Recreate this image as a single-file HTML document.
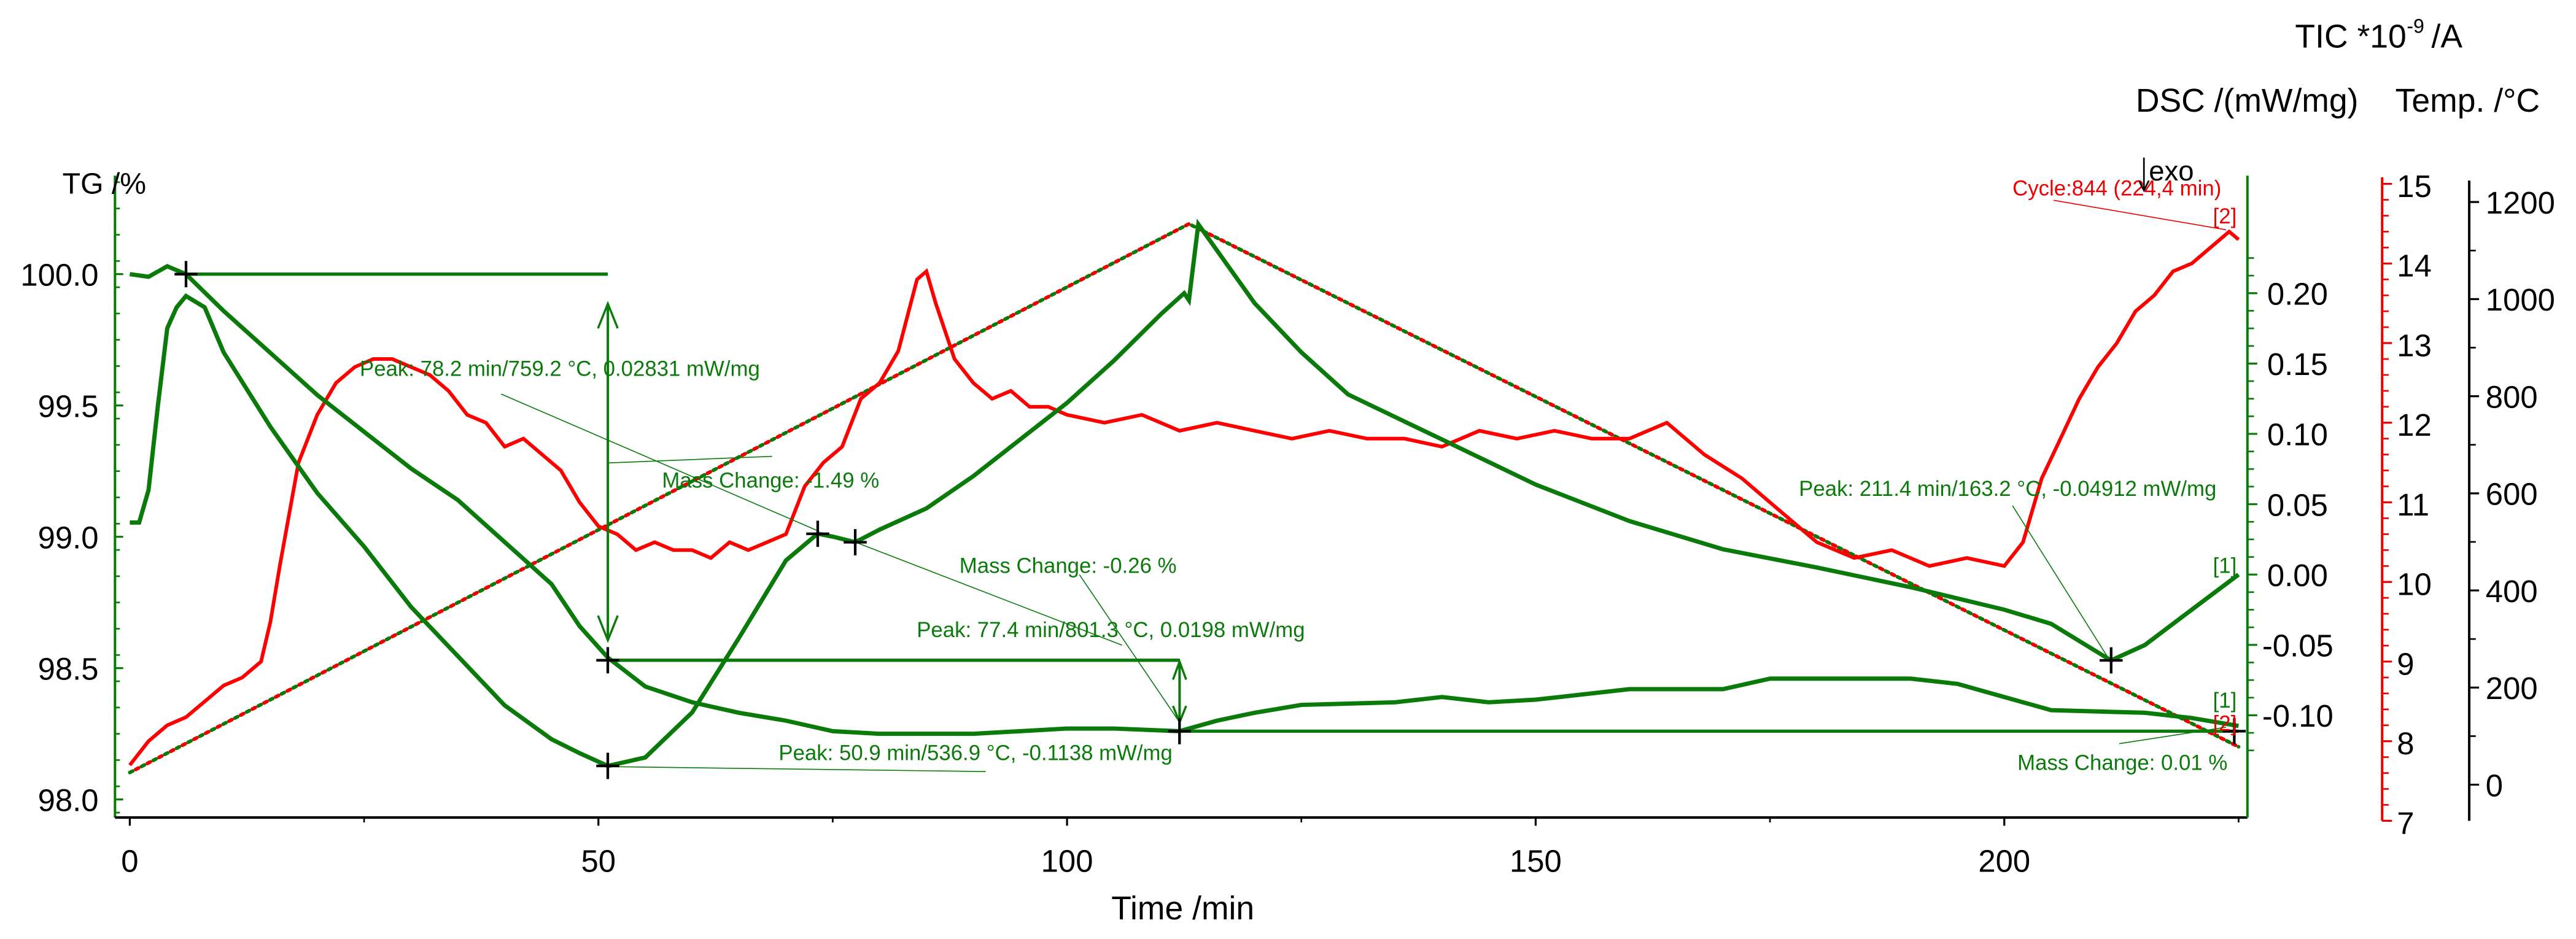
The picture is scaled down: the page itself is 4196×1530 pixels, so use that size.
<!DOCTYPE html>
<html><head><meta charset="utf-8"><style>
html,body{margin:0;padding:0;background:#fff;}
svg{display:block;font-family:"Liberation Sans",Arial,sans-serif;}
</style></head><body>
<svg id="chart" width="4196" height="1530" viewBox="0 0 1568 572" preserveAspectRatio="none" xmlns="http://www.w3.org/2000/svg">
<g id="axes"></g>
<g id="marks"></g>
<g id="ann"></g>
</svg>
<script>
// ---- data ----
const tgTime = [0,2,4,6,10,15,20,25,30,35,40,45,48,51,55,60,65,70,75,80,90,100,105,112,116,120,125,135,140,145,150,160,170,175,190,195,200,205,215,220,225];
const tgValue = [100.0,99.99,100.03,100.0,99.86,99.70,99.54,99.40,99.26,99.14,98.98,98.82,98.66,98.54,98.43,98.37,98.33,98.30,98.26,98.25,98.25,98.27,98.27,98.26,98.30,98.33,98.36,98.37,98.39,98.37,98.38,98.42,98.42,98.46,98.46,98.44,98.39,98.34,98.33,98.31,98.28];
const dscTime = [0,1,2,3,4,5,6,8,10,15,20,25,30,35,40,45,48,51,55,60,65,70,73.4,75,77.4,80,85,90,95,100,105,110,112.5,113,114,120,125,130,140,150,160,170,180,190,200,205,211.4,215,220,225];
const dscValue = [0.037,0.037,0.06,0.12,0.175,0.19,0.198,0.19,0.158,0.105,0.058,0.02,-0.023,-0.058,-0.093,-0.117,-0.127,-0.136,-0.13,-0.098,-0.045,0.01,0.029,0.027,0.023,0.032,0.047,0.07,0.096,0.122,0.152,0.185,0.2,0.195,0.249,0.193,0.158,0.128,0.096,0.064,0.038,0.018,0.005,-0.009,-0.025,-0.035,-0.061,-0.05,-0.025,0.0];
const tempTime = [0,113,225];
const tempValue = [25,1155,78];
const ticTime = [0,2,4,6,8,10,12,14,15,16,18,20,22,24,26,28,30,32,34,36,38,40,42,44,46,48,50,52,54,56,58,60,62,64,66,68,70,72,74,76,78,80,82,84,85,86,88,90,92,94,96,98,100,104,108,112,116,120,124,128,132,136,140,144,148,152,156,160,164,168,172,176,180,184,188,192,196,200,202,204,206,208,210,212,214,216,218,220,222,224,225];
const ticValue = [7.7,8.0,8.2,8.3,8.5,8.7,8.8,9.0,9.5,10.2,11.5,12.1,12.5,12.7,12.8,12.8,12.7,12.6,12.4,12.1,12.0,11.7,11.8,11.6,11.4,11.0,10.7,10.6,10.4,10.5,10.4,10.4,10.3,10.5,10.4,10.5,10.6,11.2,11.5,11.7,12.3,12.5,12.9,13.8,13.9,13.5,12.8,12.5,12.3,12.4,12.2,12.2,12.1,12.0,12.1,11.9,12.0,11.9,11.8,11.9,11.8,11.8,11.7,11.9,11.8,11.9,11.8,11.8,12.0,11.6,11.3,10.9,10.5,10.3,10.4,10.2,10.3,10.2,10.5,11.3,11.8,12.3,12.7,13.0,13.4,13.6,13.9,14.0,14.2,14.4,14.3];
const timeTicks = [0,50,100,150,200];
const tgTicks = [98.0,98.5,99.0,99.5,100.0];
const dscTicks = [-0.10,-0.05,0.00,0.05,0.10,0.15,0.20];
const ticTicks = [7,8,9,10,11,12,13,14,15];
const tempTicks = [0,200,400,600,800,1000,1200];

// ---- scales ----
const X = t => 79 + 5.705*t;
const yTG = v => 167 + (100 - v)*160;
const yDSC = v => 350 - v*857;
const yTIC = v => 500 - (v - 7)*48.5;
const yT = v => 478 - v*0.2958;

const NS = "http://www.w3.org/2000/svg";
function mk(parent, tag, attrs, txt){const e=document.createElementNS(NS,tag);for(const k in attrs)e.setAttribute(k,attrs[k]);if(txt!==undefined)e.textContent=txt;parent.appendChild(e);return e;}
const axes=document.getElementById('axes'), marks=document.getElementById('marks'), ann=document.getElementById('ann');
const G='#0a7a0a';
const FS=19;

let e;
e=mk(axes,'line',{x1:70,y1:107,x2:70,y2:498,stroke:G,'stroke-width':1.5});


e=mk(axes,'line',{x1:70,y1:498,x2:1368,y2:498,stroke:'#000','stroke-width':1.5});


e=mk(axes,'line',{x1:1368,y1:107,x2:1368,y2:498,stroke:G,'stroke-width':1.5});


e=mk(axes,'line',{x1:1450,y1:108,x2:1450,y2:500,stroke:'#e00','stroke-width':1.5});


e=mk(axes,'line',{x1:1503,y1:110,x2:1503,y2:500,stroke:'#000','stroke-width':1.5});



for(let v=97.95;v<=100.35;v+=0.1){mk(axes,'line',{x1:70,y1:yTG(v),x2:73,y2:yTG(v),stroke:G,'stroke-width':1});}
tgTicks.forEach(v=>{mk(axes,'line',{x1:70,y1:yTG(v),x2:75,y2:yTG(v),stroke:G,'stroke-width':1.2});
 e=mk(axes,'text',{x:60,y:yTG(v)+7,'text-anchor':'end','font-size':FS,fill:'#000'},v.toFixed(1));
 
 });
timeTicks.forEach(v=>{mk(axes,'line',{x1:X(v),y1:498,x2:X(v),y2:503,stroke:'#000','stroke-width':1.2});
 e=mk(axes,'text',{x:X(v),y:531,'text-anchor':'middle','font-size':FS,fill:'#000'},String(v));
 
 });
for(let t=25;t<=225;t+=50){mk(axes,'line',{x1:X(t),y1:498,x2:X(t),y2:501,stroke:'#000','stroke-width':1});}
for(let v=-0.125;v<=0.23;v+=0.0125){mk(axes,'line',{x1:1368,y1:yDSC(v),x2:1372,y2:yDSC(v),stroke:G,'stroke-width':1});}
dscTicks.forEach(v=>{mk(axes,'line',{x1:1368,y1:yDSC(v),x2:1374,y2:yDSC(v),stroke:G,'stroke-width':1.2});
 e=mk(axes,'text',{x:v<0?1377:1380,y:yDSC(v)+7,'font-size':FS,fill:'#000'},v.toFixed(2));
 
 });
for(let v=7;v<=15;v+=0.2){mk(axes,'line',{x1:1450,y1:yTIC(v),x2:1454,y2:yTIC(v),stroke:'#e00','stroke-width':1});}
ticTicks.forEach(v=>{mk(axes,'line',{x1:1450,y1:yTIC(v),x2:1456,y2:yTIC(v),stroke:'#e00','stroke-width':1.2});
 e=mk(axes,'text',{x:1459,y:yTIC(v)+8,'font-size':FS,fill:'#000'},String(v));
 
 });
for(let v=100;v<=1100;v+=200){mk(axes,'line',{x1:1503,y1:yT(v),x2:1507,y2:yT(v),stroke:'#000','stroke-width':1});}
tempTicks.forEach(v=>{mk(axes,'line',{x1:1503,y1:yT(v),x2:1509,y2:yT(v),stroke:'#000','stroke-width':1.2});
 e=mk(axes,'text',{x:1513,y:yT(v)+7,'font-size':FS,fill:'#000'},String(v));
 
 });

e=mk(axes,'text',{x:38,y:118,'font-size':18},'TG /%');


e=mk(axes,'text',{x:720,y:560,'font-size':20,'text-anchor':'middle'},'Time /min');


e=mk(axes,'text',{x:1300,y:68,'font-size':20},'DSC /(mW/mg)');


e=mk(axes,'text',{x:1458,y:68,'font-size':20},'Temp. /°C');


e=mk(axes,'text',{x:1397,y:29,'font-size':20},'TIC *10');


mk(axes,'text',{x:1465,y:20,'font-size':12},'-9');
mk(axes,'text',{x:1480,y:29,'font-size':20},'/A');

function path(ts,vs,fy){return ts.map((t,i)=>(i?'L':'M')+X(t).toFixed(1)+','+fy(vs[i]).toFixed(1)).join(' ');}
e=mk(marks,'path',{d:path(tempTime,tempValue,yT),fill:'none',stroke:G,'stroke-width':2.2,'stroke-dasharray':'2 6','stroke-linecap':'round'});


e=mk(marks,'path',{d:path(tempTime,tempValue,yT),fill:'none',stroke:'#e00','stroke-width':2.2,'stroke-dasharray':'2 6','stroke-dashoffset':4,'stroke-linecap':'round'});


e=mk(marks,'path',{d:path(ticTime,ticValue,yTIC),fill:'none',stroke:'#f00','stroke-width':2.2});


e=mk(marks,'path',{d:path(tgTime,tgValue,yTG),fill:'none',stroke:G,'stroke-width':2.6});


e=mk(marks,'path',{d:path(dscTime,dscValue,yDSC),fill:'none',stroke:G,'stroke-width':2.6});



const L=(x1,y1,x2,y2,c,w)=>mk(ann,'line',{x1,y1,x2,y2,stroke:c||G,'stroke-width':w||2});
L(X(6),yTG(100),X(51),yTG(100));
L(X(51),yTG(98.53),X(112),yTG(98.53));
L(X(112),yTG(98.26),X(225),yTG(98.26));
L(370,185,370,390,G,1.5); mk(ann,'path',{d:'M364,200 L370,185 L376,200 M364,375 L370,390 L376,375',fill:'none',stroke:G,'stroke-width':1.3});
L(718,403,718,440,G,1.5); mk(ann,'path',{d:'M714,414 L718,403 L722,414 M714,430 L718,440 L722,430',fill:'none',stroke:G,'stroke-width':1.3});
[[305,240,497,323],[370,282,470,278],[520,330,683,393],[657,350,718,440],[370,467,600,470],[1225,308,1284,402],[1290,453,1355,443],[1250,122,1355,140]].forEach((a,i)=>L(a[0],a[1],a[2],a[3],i==7?'#e00':G,0.6));
[[X(6),yTG(100)],[X(51),yTG(98.53)],[X(51),yDSC(-0.136)],[X(73.4),yDSC(0.029)],[X(77.4),yDSC(0.023)],[X(112),yTG(98.26)],[X(211.4),yDSC(-0.061)],[1360,yTG(98.26)]].forEach(p=>{
 e=mk(ann,'path',{d:`M${p[0]-7},${p[1]} H${p[0]+7} M${p[0]},${p[1]-8} V${p[1]+8}`,stroke:'#000','stroke-width':1.6});
 
 });
const T=(x,y,s,c,name)=>{const t=mk(ann,'text',{x,y,'font-size':13,fill:c||G},s);return t;};
T(219,229,'Peak: 78.2 min/759.2 °C, 0.02831 mW/mg',G,'peak-label-78');
T(403,297,'Mass Change: -1.49 %',G,'mass-change-label-1');
T(584,349,'Mass Change: -0.26 %',G,'mass-change-label-2');
T(558,388,'Peak: 77.4 min/801.3 °C, 0.0198 mW/mg',G,'peak-label-77');
T(474,463,'Peak: 50.9 min/536.9 °C, -0.1138 mW/mg',G,'peak-label-50');
T(1095,302,'Peak: 211.4 min/163.2 °C, -0.04912 mW/mg',G,'peak-label-211');
T(1228,469,'Mass Change: 0.01 %',G,'mass-change-label-3');
T(1225,119,'Cycle:844 (224,4 min)','#e00','cycle-label');
T(1347,349,'[1]',G,'dsc-curve-tag');
T(1347,431,'[1]',G,'tg-curve-tag');
T(1347,136,'[2]','#e00','tic-curve-tag');
T(1347,445,'[2]','#e00','temp-curve-tag');
e=mk(ann,'text',{x:1308,y:110,'font-size':17,fill:'#000'},'exo');


L(1305,96,1305,115,'#000',1); mk(ann,'path',{d:'M1302,110 L1305,116 L1308,110',fill:'none',stroke:'#000','stroke-width':1});
</script>
</body></html>
